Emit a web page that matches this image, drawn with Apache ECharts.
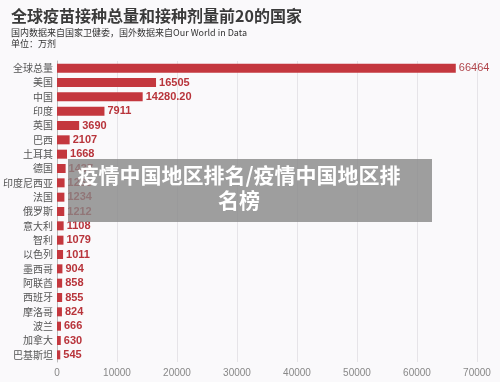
<!DOCTYPE html>
<html><head><meta charset="utf-8">
<script src="https://cdn.jsdelivr.net/npm/echarts@6/dist/echarts.min.js"></script>
<style>html,body{margin:0;padding:0;background:#faf9fb;}#c{width:500px;height:382px;}</style>
</head><body><div id="c"></div>
<script>
const categories = ['全球总量','美国','中国','印度','英国','巴西','土耳其','德国','印度尼西亚','法国','俄罗斯','意大利','智利','以色列','墨西哥','阿联酋','西班牙','摩洛哥','波兰','加拿大','巴基斯坦'];
const values = [66464,16505,14280.20,7911,3690,2107,1668,1437,1265,1234,1212,1108,1079,1011,904,858,855,824,666,630,545];
const valueLabels = ['66464','16505','14280.20','7911','3690','2107','1668','1437','1265','1234','1212','1108','1079','1011','904','858','855','824','666','630','545'];
const xTicks = [0,10000,20000,30000,40000,50000,60000,70000];

const chart = echarts.init(document.getElementById('c'), null, {renderer:'canvas'});
const data = values.map((v,i)=>{
  const d = {value:v};
  if(i===0){ d.label = {fontWeight:'normal', fontSize:11, color:'#b0454b'}; }
  return d;
});
chart.setOption({
  backgroundColor:'#faf9fb',
  animation:false,
  title:{
    text:'全球疫苗接种总量和接种剂量前20的国家',
    subtext:'国内数据来自国家卫健委，国外数据来自Our World in Data\n单位：万剂',
    left:6, top:3,
    itemGap:3,
    textStyle:{fontSize:16, fontWeight:'bold', color:'#3a3a3a', fontFamily:'Noto Sans CJK SC'},
    subtextStyle:{fontSize:9, color:'#333', lineHeight:11, fontFamily:'Noto Sans CJK SC'}
  },
  grid:{left:55, right:23, top:61, bottom:20, containLabel:false},
  xAxis:{
    type:'value', min:0, max:70000, interval:10000,
    axisLine:{show:false}, axisTick:{show:false},
    axisLabel:{color:'#888', fontSize:10, margin:6, formatter:v=>String(v)},
    splitLine:{lineStyle:{color:'#e6e4e8', width:1}}
  },
  yAxis:{
    type:'category', data:categories, inverse:true,
    axisLine:{show:true, lineStyle:{color:'#bbb'}}, axisTick:{show:false},
    axisLabel:{color:'#555', fontSize:10, margin:4, fontFamily:'Noto Sans CJK SC'}
  },
  series:[{
    type:'bar', data:data, barWidth:9,
    itemStyle:{color:'#c4373e'},
    label:{show:true, position:'right', distance:3, color:'#b8343b', fontSize:11, fontWeight:'bold',
      formatter:p=>valueLabels[p.dataIndex]}
  }],
  graphic:[
    {type:'rect', shape:{x:68, y:159, width:364, height:63}, style:{fill:'rgba(135,135,135,0.8)'}, z:100},
    {type:'text', style:{x:239, y:175, text:'疫情中国地区排名/疫情中国地区排', fill:'#fff', font:'bold 21px "Noto Sans CJK SC"', textAlign:'center', textVerticalAlign:'middle'}, z:101},
    {type:'text', style:{x:239, y:200, text:'名榜', fill:'#fff', font:'bold 21px "Noto Sans CJK SC"', textAlign:'center', textVerticalAlign:'middle'}, z:101}
  ]
});
</script></body></html>
